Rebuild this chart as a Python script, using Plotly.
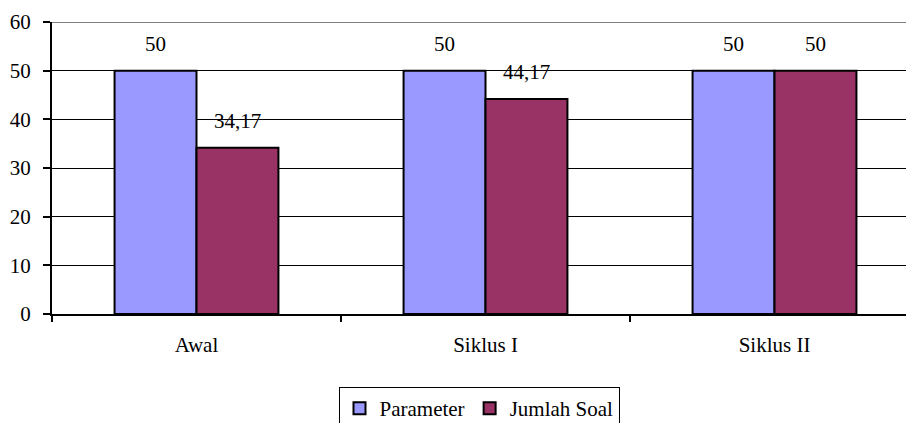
import plotly.graph_objects as go

categories = ["Awal", "Siklus I", "Siklus II"]
parameter = [50, 50, 50]
jumlah_soal = [34.17, 44.17, 50]
y_ticks = [0, 10, 20, 30, 40, 50, 60]

def fmt(v):
    s = ("%.2f" % v).rstrip("0").rstrip(".")
    return s.replace(".", ",")

FONT = dict(family="Liberation Serif, Times New Roman, serif", size=21, color="black")

fig = go.Figure()
fig.add_trace(go.Bar(name="Parameter", x=categories, y=parameter,
                     marker=dict(color="#9999FF", line=dict(color="black", width=2))))
fig.add_trace(go.Bar(name="Jumlah Soal", x=categories, y=jumlah_soal,
                     marker=dict(color="#993366", line=dict(color="black", width=2))))

# data labels via annotations anchored on the data
for i, c in enumerate(categories):
    for vals, shift in ((parameter, -41), (jumlah_soal, 41)):
        fig.add_annotation(x=c, y=vals[i], text=fmt(vals[i]), showarrow=False,
                           xshift=shift, yshift=13, yanchor="bottom",
                           font=FONT)

fig.add_shape(type="line", xref="paper", yref="y", x0=0, x1=1, y0=60, y1=60,
              line=dict(color="#808080", width=2), layer="above")

fig.update_layout(
    width=906, height=423,
    margin=dict(l=52, r=0, t=22, b=109, autoexpand=False),
    paper_bgcolor="white", plot_bgcolor="white",
    font=FONT,
    barmode="group", bargap=0.433, bargroupgap=0,
    showlegend=True,
    legend=dict(orientation="h", x=0.5, xanchor="center", y=-0.25, yanchor="top",
                bordercolor="black", borderwidth=1, font=FONT,
                itemwidth=30, tracegroupgap=0),
    xaxis=dict(type="category", range=[-0.5, 2.455], showline=True, linecolor="black",
               linewidth=2, ticks="outside", tickson="boundaries", ticklen=6,
               tickcolor="black", tickwidth=1.5, showgrid=False, automargin=False,
               ticklabelstandoff=11, tickfont=FONT),
    yaxis=dict(range=[0, 60], tickvals=y_ticks, showline=True, linecolor="black",
               linewidth=2, ticks="outside", ticklen=7, tickcolor="black", tickwidth=1.5,
               showgrid=True, gridcolor="black", gridwidth=1.3, zeroline=False,
               automargin=False, ticklabelstandoff=8, tickfont=FONT),
)

fig.write_html("out.html", config={"displayModeBar": False},
               post_script="document.body.style.margin='0';document.body.style.overflow='hidden';")
